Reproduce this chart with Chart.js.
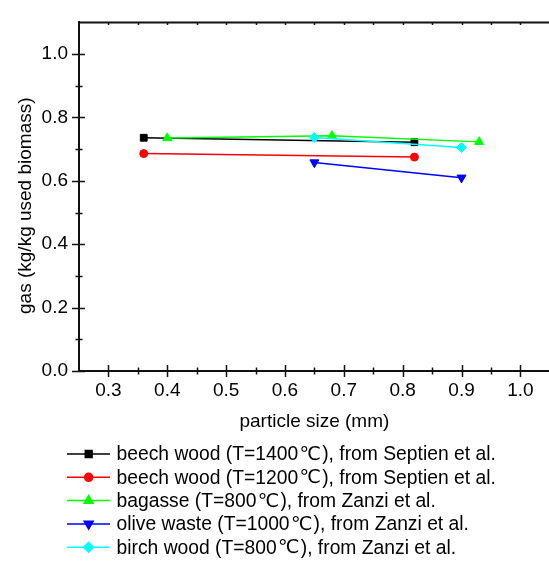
<!DOCTYPE html>
<html lang="en">
<head>
  <meta charset="UTF-8">
  <title>Gas yield vs particle size</title>
  <script src="https://cdn.jsdelivr.net/npm/chart.js"></script>
  <style>
    html, body { margin: 0; padding: 0; background: #fff; overflow: hidden; }
    /* plot runs to 1.05 on x, the right edge is cut off by the window like the original */
    #wrap { width: 556px; height: 561px; }
  </style>
</head>
<body>
  <div id="wrap"><canvas id="gasChart"></canvas></div>

  <script>
    // --- data ---
    const seriesLabels = [
      'beech wood (T=1400\u2103), from Septien et al.',
      'beech wood (T=1200\u2103), from Septien et al.',
      'bagasse (T=800\u2103), from Zanzi et al.',
      'olive waste (T=1000\u2103), from Zanzi et al.',
      'birch wood (T=800\u2103), from Zanzi et al.'
    ];
    const beech1400X = [0.36, 0.82];
    const beech1400Y = [0.736, 0.722];
    const beech1200X = [0.36, 0.82];
    const beech1200Y = [0.686, 0.675];
    const bagasseX = [0.40, 0.68, 0.93];
    const bagasseY = [0.735, 0.742, 0.723];
    const oliveX = [0.65, 0.90];
    const oliveY = [0.658, 0.610];
    const birchX = [0.65, 0.90];
    const birchY = [0.737, 0.705];

    const xTickValues = [0.3, 0.4, 0.5, 0.6, 0.7, 0.8, 0.9, 1.0];
    const xMinorValues = [0.35, 0.45, 0.55, 0.65, 0.75, 0.85, 0.95, 1.05];
    const yTickValues = [0.0, 0.2, 0.4, 0.6, 0.8, 1.0];
    const yMinorValues = [0.1, 0.3, 0.5, 0.7, 0.9];

    const FONT = '"Liberation Sans", Arial, Helvetica, sans-serif';
    const SYM = '"DejaVu Sans", sans-serif';
    const AXIS = '#111';

    function pts(xs, ys) {
      return xs.map((x, i) => ({ x: x, y: ys[i] }));
    }

    function series(i, data, color, style, rot, radius) {
      return {
        label: seriesLabels[i],
        data: data,
        showLine: true,
        borderColor: color,
        backgroundColor: color,
        borderWidth: 1.5,
        pointStyle: style,
        rotation: rot,
        pointRadius: radius,
        pointBorderWidth: 1,
        order: 5 - i
      };
    }

    // the degree sign sits in a wide cell in the original
    function drawLabel(ctx, text, x, y) {
      const parts = text.split('\u2103');
      parts.forEach((part, k) => {
        ctx.font = '19.3px ' + FONT;
        ctx.fillText(part, x, y);
        x += ctx.measureText(part).width;
        if (k < parts.length - 1) {
          ctx.font = '19px ' + SYM;
          const w = ctx.measureText('\u2103').width;
          const cell = 24;
          ctx.fillText('\u2103', x + (cell - w) / 2, y);
          x += cell;
        }
      });
    }

    // ticks on all sides, top frame line, y title and the line+marker legend
    const frameAndLegend = {
      id: 'frameAndLegend',
      afterDraw(chart) {
        const ctx = chart.ctx;
        const { left, right, top, bottom } = chart.chartArea;
        const xs = chart.scales.x, ys = chart.scales.y;

        ctx.save();
        ctx.strokeStyle = AXIS;
        ctx.lineWidth = 2;
        ctx.beginPath();
        ctx.moveTo(left - 1, top);
        ctx.lineTo(right, top);
        ctx.stroke();

        ctx.lineWidth = 1.5;
        ctx.beginPath();
        xTickValues.forEach(v => {
          const p = Math.round(xs.getPixelForValue(v)) + 0.5;
          ctx.moveTo(p, bottom - 6); ctx.lineTo(p, bottom + 6);
          ctx.moveTo(p, top); ctx.lineTo(p, top + 2.5);
        });
        xMinorValues.forEach(v => {
          const p = Math.round(xs.getPixelForValue(v)) + 0.5;
          ctx.moveTo(p, bottom - 3.5); ctx.lineTo(p, bottom + 3.5);
          ctx.moveTo(p, top); ctx.lineTo(p, top + 2.5);
        });
        yTickValues.forEach(v => {
          const p = Math.round(ys.getPixelForValue(v)) + 0.5;
          ctx.moveTo(left - 7, p); ctx.lineTo(left + 6, p);
        });
        yMinorValues.forEach(v => {
          const p = Math.round(ys.getPixelForValue(v)) + 0.5;
          ctx.moveTo(left - 3.5, p); ctx.lineTo(left + 3.5, p);
        });
        ctx.stroke();

        // y axis title
        ctx.fillStyle = '#000';
        ctx.font = '19px ' + FONT;
        ctx.textAlign = 'center';
        ctx.textBaseline = 'middle';
        ctx.translate(26, (top + bottom) / 2 + 9);
        ctx.rotate(-Math.PI / 2);
        ctx.fillText('gas (kg/kg used biomass)', 0, 0);
        ctx.restore();

        // legend below the axis
        ctx.save();
        ctx.textAlign = 'left';
        ctx.textBaseline = 'middle';
        chart.data.datasets.forEach((ds, i) => {
          const y = 454 + i * 23.3;
          ctx.strokeStyle = ds.borderColor;
          ctx.fillStyle = ds.backgroundColor;
          ctx.lineWidth = 1.5;
          ctx.beginPath();
          ctx.moveTo(67, y); ctx.lineTo(110, y);
          ctx.stroke();
          if (Chart.helpers && Chart.helpers.drawPoint) {
            Chart.helpers.drawPoint(ctx, {
              pointStyle: ds.pointStyle, rotation: ds.rotation,
              radius: ds.pointRadius, borderWidth: 1
            }, 88.7, y);
          } else {
            ctx.beginPath(); ctx.arc(88.7, y, 4, 0, Math.PI * 2); ctx.fill();
          }
          ctx.fillStyle = '#000';
          drawLabel(ctx, ds.label, 116.5, y + 1);
        });
        ctx.restore();
      }
    };

    new Chart(document.getElementById('gasChart'), {
      type: 'scatter',
      data: {
        datasets: [
          series(0, pts(beech1400X, beech1400Y), '#000000', 'rect', 0, 4.8),
          series(1, pts(beech1200X, beech1200Y), '#ff0000', 'circle', 0, 4),
          series(2, pts(bagasseX, bagasseY), '#00ff00', 'triangle', 0, 5.2),
          series(3, pts(oliveX, oliveY), '#0000ff', 'triangle', 180, 5.2),
          series(4, pts(birchX, birchY), '#00ffff', 'rectRot', 0, 5)
        ]
      },
      options: {
        responsive: true,
        maintainAspectRatio: false,
        animation: false,
        devicePixelRatio: 1,
        layout: { padding: { top: 13, left: 0, right: 0, bottom: 128 } },
        plugins: {
          legend: { display: false },
          tooltip: { enabled: false }
        },
        scales: {
          x: {
            type: 'linear',
            min: 0.25,
            max: 1.05,
            afterBuildTicks: axis => { axis.ticks = xTickValues.map(v => ({ value: v })); },
            afterFit: scale => { scale.height = 62; },
            grid: { display: false, drawTicks: false },
            border: { display: true, color: AXIS, width: 2 },
            ticks: {
              color: '#000',
              padding: 8,
              maxRotation: 0,
              font: { family: FONT, size: 19 },
              callback: v => v.toFixed(1)
            },
            title: {
              display: true,
              text: 'particle size (mm)',
              color: '#000',
              padding: { top: 0, bottom: 0 },
              font: { family: FONT, size: 19 }
            }
          },
          y: {
            type: 'linear',
            min: 0,
            max: 1.1,
            afterBuildTicks: axis => { axis.ticks = yTickValues.map(v => ({ value: v })); },
            afterFit: scale => { scale.width = 79; },
            grid: { display: false, drawTicks: false },
            border: { display: true, color: AXIS, width: 2 },
            ticks: {
              color: '#000',
              padding: 11,
              font: { family: FONT, size: 19 },
              callback: v => v.toFixed(1)
            }
          }
        }
      },
      plugins: [frameAndLegend]
    });
  </script>
</body>
</html>
